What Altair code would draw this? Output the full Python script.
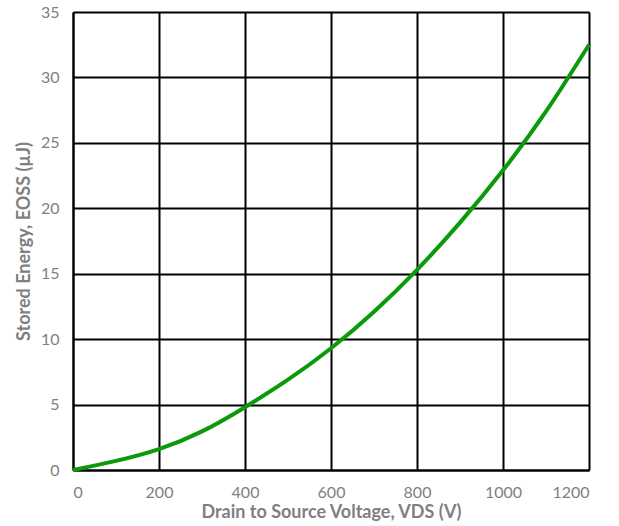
import altair as alt
import pandas as pd

# Drain-to-source voltage (V) and stored output-capacitance energy (µJ)
vds = [0, 100, 200, 300, 400, 500, 600, 700, 800, 900, 1000, 1100, 1200]
eoss = [0.0, 0.7, 1.6, 2.95, 4.8, 6.9, 9.3, 12.1, 15.3, 18.9, 22.9, 27.4, 32.5]

x_ticks = [0, 200, 400, 600, 800, 1000, 1200]
y_ticks = [0, 5, 10, 15, 20, 25, 30, 35]

df = pd.DataFrame({"vds": vds, "eoss": eoss})

FONT = "Lato"
GREY = "#7f7f7f"

chart = (
    alt.Chart(df)
    .mark_line(color="#0a9a0a", strokeWidth=4, interpolate="natural")
    .encode(
        x=alt.X(
            "vds:Q",
            scale=alt.Scale(domain=[0, 1200], nice=False),
            axis=alt.Axis(
                values=x_ticks,
                format="d",
                title="Drain to Source Voltage, VDS (V)",
                titleFont=FONT,
                titleFontSize=18,
                titleFontWeight="bold",
                titleColor=GREY,
                titlePadding=3,
                labelFont=FONT,
                labelFontSize=16,
                labelColor=GREY,
                labelPadding=14,
                ticks=False,
                domainColor="black",
                domainWidth=2,
                gridColor="black",
                gridWidth=2,
                gridOpacity=1,
            ),
        ),
        y=alt.Y(
            "eoss:Q",
            scale=alt.Scale(domain=[0, 35], nice=False),
            axis=alt.Axis(
                values=y_ticks,
                format="d",
                title="Stored Energy, EOSS (µJ)",
                titleFont=FONT,
                titleFontSize=18,
                titleFontWeight="bold",
                titleColor=GREY,
                titlePadding=7,
                labelFont=FONT,
                labelFontSize=16,
                labelColor=GREY,
                labelPadding=14,
                ticks=False,
                domainColor="black",
                domainWidth=2,
                gridColor="black",
                gridWidth=2,
                gridOpacity=1,
            ),
        ),
    )
    .properties(
        width=516,
        height=458,
        autosize=alt.AutoSizeParams(type="none"),
        padding={"left": 73, "top": 12, "right": 30, "bottom": 56},
    )
    .configure_view(stroke="black", strokeWidth=2)
    .configure(background="white")
)

chart.save("out.html", embed_options={"renderer": "svg", "actions": False})
